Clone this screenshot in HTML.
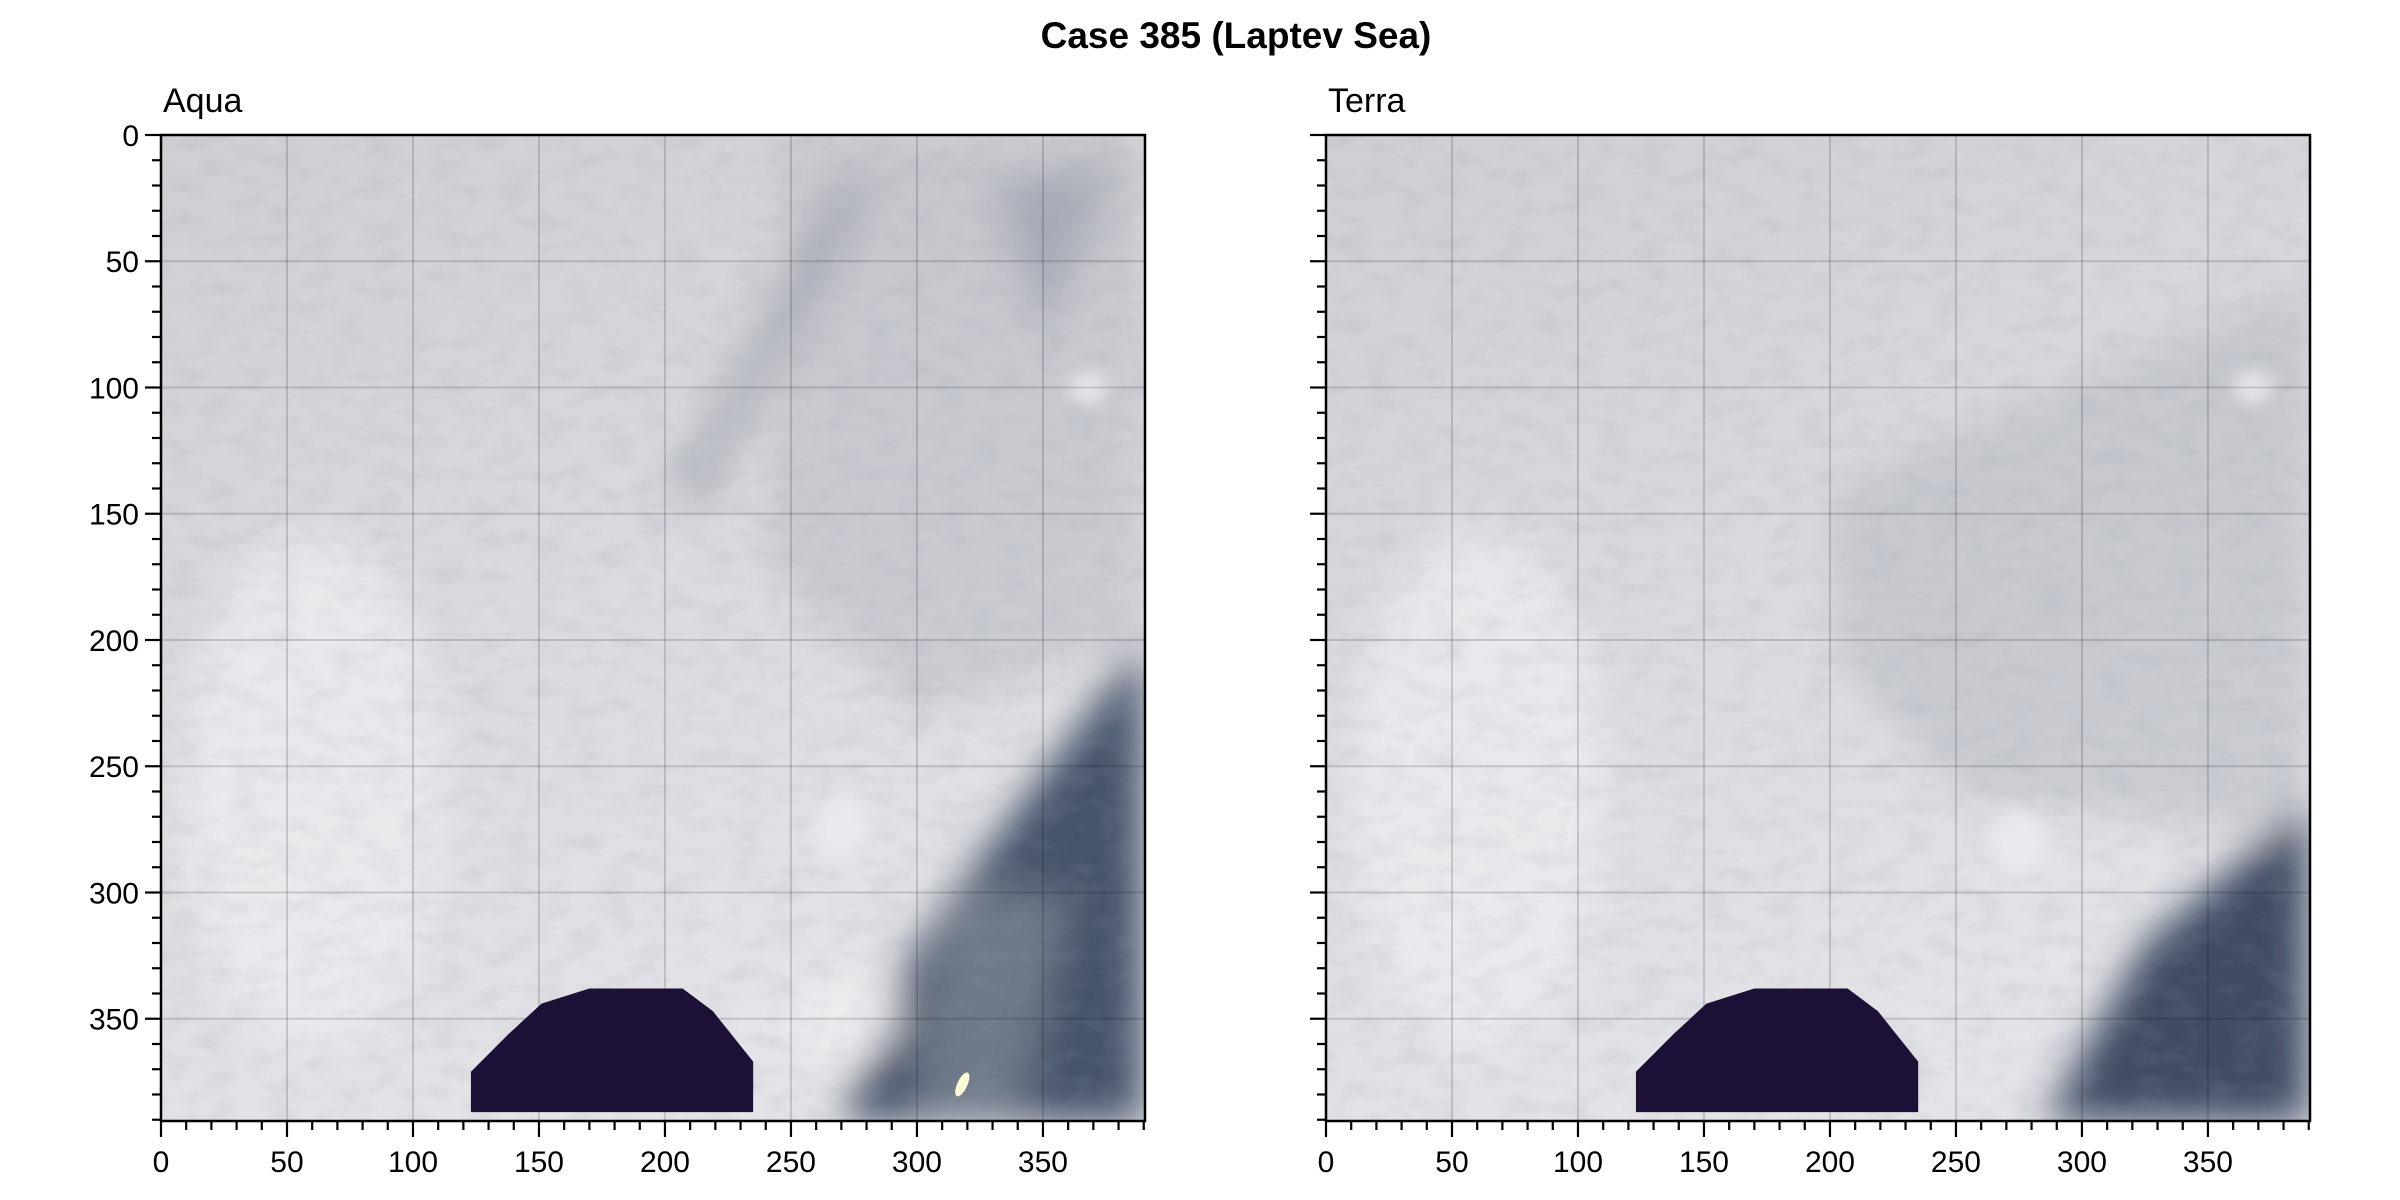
<!DOCTYPE html>
<html><head><meta charset="utf-8"><style>
html,body{margin:0;padding:0;background:#fff;}
svg{display:block;font-family:"Liberation Sans",sans-serif;}
</style></head><body>
<svg id="fig" width="2400" height="1200" viewBox="0 0 2400 1200">
<defs>
  <filter id="blur20" x="-50%" y="-50%" width="200%" height="200%"><feGaussianBlur stdDeviation="20"/></filter>
  <filter id="blur8" x="-50%" y="-50%" width="200%" height="200%"><feGaussianBlur stdDeviation="8"/></filter>
  <filter id="noise" x="0" y="0" width="100%" height="100%">
    <feTurbulence type="fractalNoise" baseFrequency="0.03 0.06" numOctaves="3" seed="4"/>
    <feColorMatrix type="matrix" values="0 0 0 0 0.3  0 0 0 0 0.35  0 0 0 0 0.45  0 0 0 -2.2 1.3"/>
  </filter>
  <linearGradient id="baseA" x1="0" y1="0" x2="0.35" y2="1">
    <stop offset="0" stop-color="#cfcfd3"/><stop offset="0.45" stop-color="#d9d9dd"/><stop offset="1" stop-color="#e4e4e8"/>
  </linearGradient>
  <clipPath id="clipA"><rect x="161" y="135" width="984" height="986"/></clipPath>
  <clipPath id="clipB"><rect x="1326" y="135" width="984" height="986"/></clipPath>
</defs>
<text x="1236" y="48" text-anchor="middle" font-size="37" font-weight="bold">Case 385 (Laptev Sea)</text>
<g id="panels"></g>
</svg>
<script>
const xTicks=[0,50,100,150,200,250,300,350];
const yTicks=[0,50,100,150,200,250,300,350];
const extent=390.5;
const maskX=[123,123,138,151,170,207,219,235,235];
const maskY=[387,371,356,344,338,338,347,367,387];
const panelNames=['Aqua','Terra'];
const panelLeft=[161,1326];
const top0=135, W=984, H=986;
const NS='http://www.w3.org/2000/svg';
function el(t,a,p){const e=document.createElementNS(NS,t);for(const k in a)e.setAttribute(k,a[k]);p.appendChild(e);return e;}
const root=document.getElementById('panels');
panelNames.forEach((name,i)=>{
  const L=panelLeft[i];
  const sx=v=>L+v/extent*W, sy=v=>top0+v/extent*H;
  const g=el('g',{},root);
  
  
  const img=el('g',{'clip-path':'url(#clip'+(i?'B':'A')+')'},g);
  
  
  el('rect',{x:L,y:top0,width:W,height:H,fill:'url(#baseA)'},img);
  const bl=el('g',{filter:'url(#blur20)'},img);
  if(i===0){
    el('ellipse',{cx:sx(60),cy:sy(260),rx:130,ry:260,fill:'#ececf0',opacity:0.8},bl);
    el('path',{d:`M${sx(250)} ${sy(0)} L${sx(390)} ${sy(0)} L${sx(390)} ${sy(200)} L${sx(300)} ${sy(230)} L${sx(240)} ${sy(170)} Z`,fill:'#b7bac2',opacity:0.5},bl);
    el('path',{d:`M${sx(265)} ${sy(25)} L${sx(285)} ${sy(15)} L${sx(215)} ${sy(150)} L${sx(200)} ${sy(140)} Z`,fill:'#6d7586',opacity:0.35},bl);
    el('path',{d:`M${sx(330)} ${sy(20)} L${sx(380)} ${sy(10)} L${sx(350)} ${sy(80)} Z`,fill:'#6d7586',opacity:0.35},bl);
    el('path',{d:`M${sx(390)} ${sy(200)} L${sx(390)} ${sy(391)} L${sx(270)} ${sy(391)} L${sx(300)} ${sy(320)} L${sx(345)} ${sy(260)} Z`,fill:'#34425c',opacity:0.9},bl);
    el('path',{d:`M${sx(310)} ${sy(300)} L${sx(360)} ${sy(300)} L${sx(340)} ${sy(391)} L${sx(300)} ${sy(391)} Z`,fill:'#8d929c',opacity:0.6},bl);
    el('ellipse',{cx:sx(270),cy:sy(350),rx:60,ry:40,fill:'#f0f0f2',opacity:0.8},bl);
  } else {
    el('ellipse',{cx:sx(60),cy:sy(260),rx:130,ry:260,fill:'#ececf0',opacity:0.8},bl);
    el('path',{d:`M${sx(200)} ${sy(140)} L${sx(390)} ${sy(60)} L${sx(390)} ${sy(280)} L${sx(250)} ${sy(260)} L${sx(205)} ${sy(210)} Z`,fill:'#b0b3bb',opacity:0.45},bl);
    el('path',{d:`M${sx(390)} ${sy(265)} L${sx(390)} ${sy(391)} L${sx(285)} ${sy(391)} L${sx(325)} ${sy(320)} Z`,fill:'#2f3c55',opacity:0.9},bl);
  }
  el('rect',{x:L,y:top0,width:W,height:H,filter:'url(#noise)',opacity:0.15},img);
  const b2=el('g',{filter:'url(#blur8)'},img);
  el('ellipse',{cx:sx(i?275:270),cy:sy(i?280:275),rx:28,ry:32,fill:'#ececf0',opacity:0.8},b2);
  el('ellipse',{cx:sx(368),cy:sy(100),rx:20,ry:16,fill:'#ececf0',opacity:0.8},b2);
  xTicks.forEach(t=>{ if(t>0){const ln=el('line',{x1:sx(t),x2:sx(t),y1:top0,y2:top0+H,stroke:'#000','stroke-opacity':0.15,'stroke-width':2},g);
    }});
  yTicks.forEach(t=>{ if(t>0){const ln=el('line',{y1:sy(t),y2:sy(t),x1:L,x2:L+W,stroke:'#000','stroke-opacity':0.15,'stroke-width':2},g);
    }});
  const pts=maskX.map((x,k)=>sx(x)+','+sy(maskY[k])).join(' ');
  const m=el('polygon',{points:pts,fill:'#1c1036'},g);
  
  
  if(i===0){const y=el('ellipse',{cx:sx(318),cy:sy(376),rx:5,ry:13,fill:'#fffbd9',transform:`rotate(25 ${sx(318)} ${sy(376)})`},g);
    }
  const fr=el('rect',{x:L,y:top0,width:W,height:H,fill:'none',stroke:'#000','stroke-width':2.5},g);
  
  for(let v=0;v<=390;v+=10){const major=v%50===0;
    el('line',{x1:sx(v),x2:sx(v),y1:top0+H,y2:top0+H+(major?16:9),stroke:'#000','stroke-width':2.2},g);}
  xTicks.forEach(t=>{const tx=el('text',{x:sx(t),y:top0+H+51,'text-anchor':'middle','font-size':30},g);tx.textContent=t;
    });
  for(let v=0;v<=390;v+=10){const major=v%50===0;
    el('line',{x1:L,x2:L-(major?16:9),y1:sy(v),y2:sy(v),stroke:'#000','stroke-width':2.2},g);}
  if(i===0) yTicks.forEach(t=>{const tx=el('text',{x:L-22,y:sy(t)+11,'text-anchor':'end','font-size':30},g);tx.textContent=t;
    });
  const tt=el('text',{x:L+2,y:112,'font-size':34},g);tt.textContent=name;
  
});
</script>
</body></html>
